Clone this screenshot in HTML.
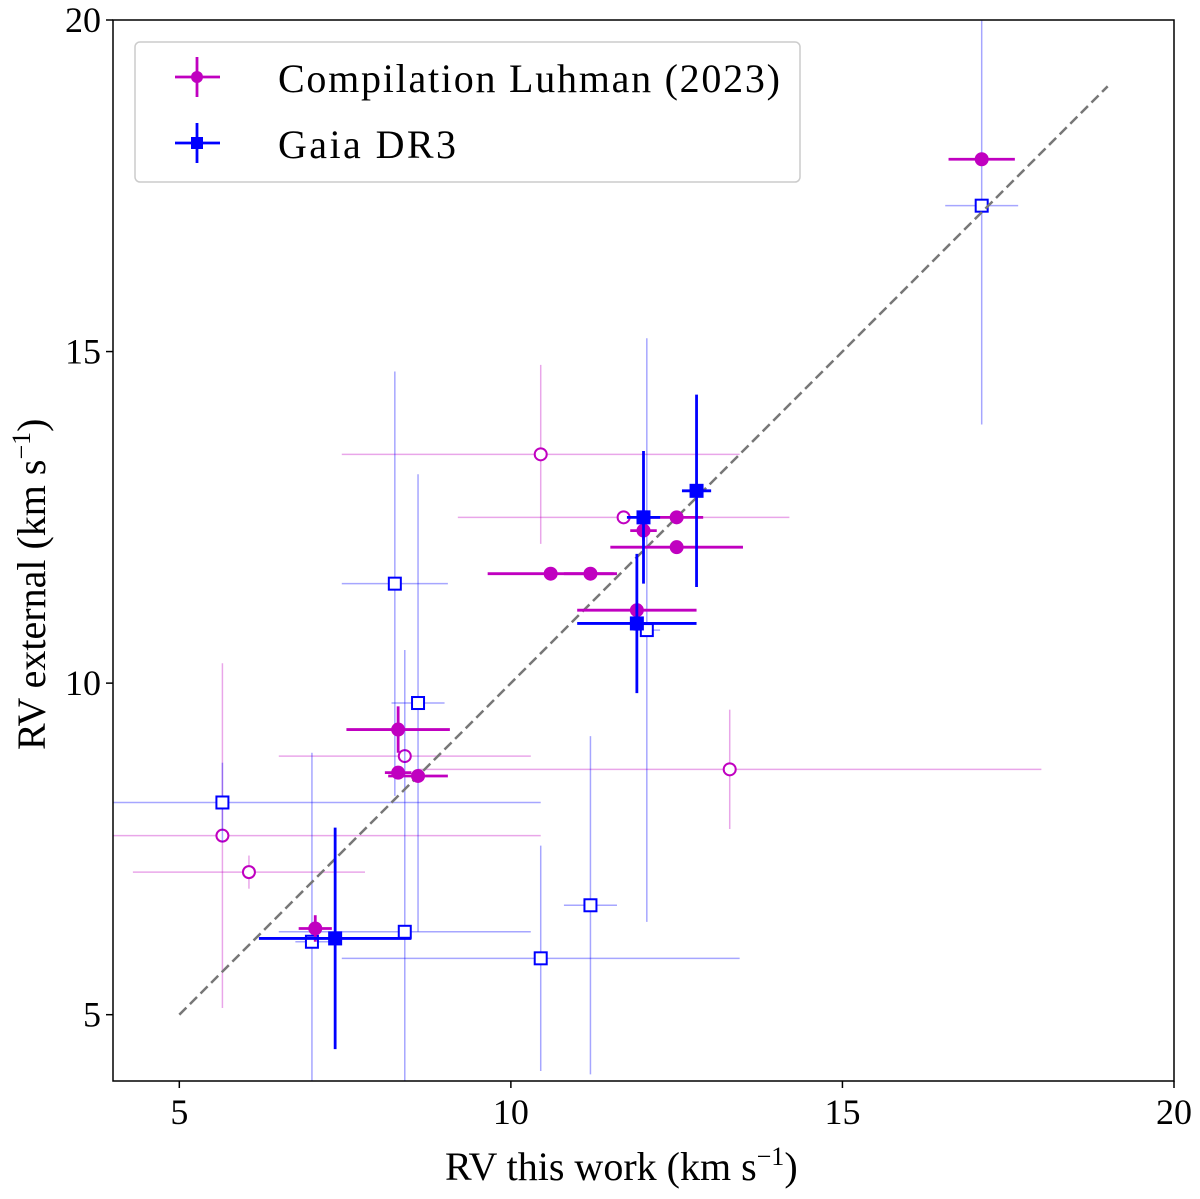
<!DOCTYPE html>
<html><head><meta charset="utf-8"><style>
body{margin:0;background:#fff;}
svg text{font-family:"Liberation Serif",serif;fill:#000;}
</style></head><body>
<svg id="chart" width="1200" height="1194" xmlns="http://www.w3.org/2000/svg"></svg>
<script>
// Magenta filled: [x, y, xerr, yerr]
const luhX = [17.1, 12.0, 12.5, 12.5, 10.6, 11.2, 11.9, 8.3, 8.3, 8.6, 7.05];
const luhY = [17.9, 12.3, 12.5, 12.05, 11.65, 11.65, 11.1, 9.3, 8.65, 8.6, 6.3];
const luhXe = [0.5, 0.2, 0.4, 1.0, 0.95, 0.4, 0.9, 0.78, 0.2, 0.45, 0.25];
const luhYe = [0.05, 0.15, 0.05, 0.05, 0.05, 0.05, 0.05, 0.35, 0.05, 0.05, 0.2];
// Magenta open
const luhOX = [10.45, 11.7, 8.4, 13.3, 5.65, 6.05];
const luhOY = [13.45, 12.5, 8.9, 8.7, 7.7, 7.15];
const luhOXe = [3.0, 2.5, 1.9, 4.7, 4.8, 1.75];
const luhOYe = [1.35, 0.05, 0.05, 0.9, 2.6, 0.25];
// Blue filled
const gaiaX = [12.0, 12.8, 11.9, 7.35];
const gaiaY = [12.5, 12.9, 10.9, 6.15];
const gaiaXe = [0.25, 0.22, 0.9, 1.15];
const gaiaYe = [1.0, 1.45, 1.05, 1.67];
// Blue open
const gaiaOX = [17.1, 12.05, 8.25, 8.6, 5.65, 8.4, 7.0, 11.2, 10.45];
const gaiaOY = [17.2, 10.8, 11.5, 9.7, 8.2, 6.25, 6.1, 6.65, 5.85];
const gaiaOXe = [0.55, 0.2, 0.8, 0.4, 4.8, 1.9, 0.25, 0.4, 3.0];
const gaiaOYe = [3.3, 4.4, 3.2, 3.45, 0.6, 4.25, 2.85, 2.55, 1.7];
const ticks = [5, 10, 15, 20];

const L=113,R=1174,T=20,B=1081, xmin=4,xmax=20,ymin=4,ymax=20;
const sx=v=>L+(v-xmin)/(xmax-xmin)*(R-L);
const sy=v=>B-(v-ymin)/(ymax-ymin)*(B-T);
const svg=document.getElementById('chart');
const NS='http://www.w3.org/2000/svg';
function mk(tag,attrs,parent){const e=document.createElementNS(NS,tag);for(const k in attrs)e.setAttribute(k,attrs[k]);(parent||svg).appendChild(e);return e;}
const defs=mk('defs',{});
const cp=mk('clipPath',{id:'clip'},defs);mk('rect',{x:L,y:T,width:R-L,height:B-T},cp);
const plot=mk('g',{'clip-path':'url(#clip)'});



function series(X,Y,Xe,Ye,color,op,lw,shape,filled,name){
  const g=mk('g',{},plot);
  
  
  for(let i=0;i<X.length;i++){
    const cx=sx(X[i]),cy=sy(Y[i]);
    mk('line',{x1:sx(X[i]-Xe[i]),x2:sx(X[i]+Xe[i]),y1:cy,y2:cy,stroke:color,'stroke-width':lw,'stroke-opacity':op},g);
    mk('line',{x1:cx,x2:cx,y1:sy(Y[i]-Ye[i]),y2:sy(Y[i]+Ye[i]),stroke:color,'stroke-width':lw,'stroke-opacity':op},g);
    let m;
    if(shape==='c') m=mk('circle',{cx:cx,cy:cy,r:6,fill:filled?color:'#fff',stroke:color,'stroke-width':2},g);
    else m=mk('rect',{x:cx-6,y:cy-6,width:12,height:12,fill:filled?color:'#fff',stroke:color,'stroke-width':2},g);
    
    
  }
}
series(luhOX,luhOY,luhOXe,luhOYe,'#c000c0',0.35,1.5,'c',false,'luhman-open-series');
series(gaiaOX,gaiaOY,gaiaOXe,gaiaOYe,'#0000ff',0.35,1.5,'s',false,'gaia-open-series');
const d=mk('line',{x1:sx(5),y1:sy(5),x2:sx(19),y2:sy(19),stroke:'#777','stroke-width':2.5,'stroke-dasharray':'10,5'},plot);


series(luhX,luhY,luhXe,luhYe,'#c000c0',1,2.8,'c',true,'luhman-series');
series(gaiaX,gaiaY,gaiaXe,gaiaYe,'#0000ff',1,2.8,'s',true,'gaia-series');

const fr=mk('rect',{x:L,y:T,width:R-L,height:B-T,fill:'none',stroke:'#000','stroke-width':1.5});


ticks.forEach(t=>{
  mk('line',{x1:sx(t),x2:sx(t),y1:B,y2:B+7,stroke:'#000','stroke-width':1.5});
  const tx=mk('text',{x:sx(t),y:B+43,'font-size':36,'text-anchor':'middle'});tx.textContent=t;
  
  
  mk('line',{x1:L-7,x2:L,y1:sy(t),y2:sy(t),stroke:'#000','stroke-width':1.5});
  const ty=mk('text',{x:L-12,y:sy(t)+12,'font-size':36,'text-anchor':'end'});ty.textContent=t;
  
  
});
</script>
<svg width="1200" height="1194" style="position:absolute;left:0;top:0" xmlns="http://www.w3.org/2000/svg">
<text x="445" y="1180" font-size="40">RV this work (km s<tspan font-size="26" dy="-15">−1</tspan><tspan dy="15">)</tspan></text>
<text transform="translate(45,750) rotate(-90)" font-size="40">RV external (km s<tspan font-size="26" dy="-15">−1</tspan><tspan dy="15">)</tspan></text>
<g>
<rect x="135" y="42" width="665" height="140" rx="5" fill="#fff" fill-opacity="0.8" stroke="#ccc" stroke-width="1.5"/>
<line x1="175" x2="220" y1="77" y2="77" stroke="#c000c0" stroke-width="2.8"/><line x1="197" x2="197" y1="57" y2="97" stroke="#c000c0" stroke-width="2.8"/><circle cx="197" cy="77" r="6" fill="#c000c0"/>
<text x="278" y="92" font-size="40" textLength="502" lengthAdjust="spacing">Compilation Luhman (2023)</text>
<line x1="175" x2="220" y1="143" y2="143" stroke="#0000ff" stroke-width="2.8"/><line x1="197" x2="197" y1="123" y2="163" stroke="#0000ff" stroke-width="2.8"/><rect x="191" y="137" width="12" height="12" fill="#0000ff"/>
<text x="278" y="158" font-size="40" textLength="178" lengthAdjust="spacing">Gaia DR3</text>
</g>
</svg>
</body></html>
